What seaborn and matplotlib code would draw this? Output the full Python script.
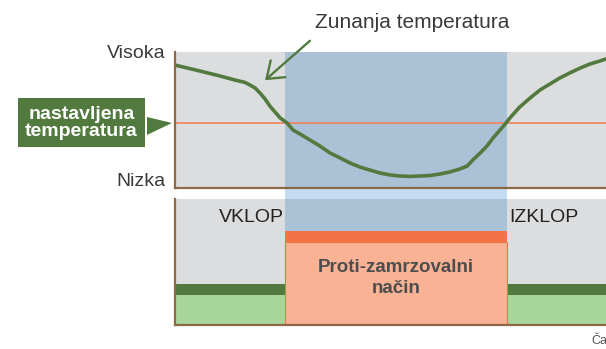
import matplotlib
matplotlib.use("Agg")
import matplotlib.pyplot as plt
import numpy as np
import pandas as pd
import seaborn as sns
from matplotlib.patches import Polygon, Rectangle

# Outside temperature curve (time 0..100, temperature 0 = low .. 10 = high)
time = [0, 5.8, 10.4, 13.9, 16.2, 17.4, 18.6, 19.7, 20.9, 22.0, 23.2, 24.4, 26.0, 27.4,
        29.0, 31.3, 33.6, 36.0, 38.3, 40.6, 42.9, 45.2, 47.6, 49.9, 52.2, 54.5, 56.8,
        59.2, 61.5, 63.8, 66.1, 67.8, 69.1, 70.8, 72.4, 73.8, 75.4, 76.8, 77.7, 80.0,
        82.4, 84.7, 87.0, 89.3, 91.6, 94.0, 96.3, 98.6, 100]
outside_temp = [9.04, 8.60, 8.24, 7.94, 7.77, 7.57, 7.35, 6.99, 6.54, 6.03, 5.59, 5.15, 4.78, 4.26,
                3.97, 3.53, 3.09, 2.57, 2.21, 1.84, 1.54, 1.32, 1.10, 0.96, 0.88, 0.85, 0.88,
                0.92, 1.03, 1.18, 1.40, 1.62, 2.06, 2.57, 3.09, 3.68, 4.26, 4.78, 5.15, 5.96,
                6.62, 7.21, 7.65, 8.09, 8.46, 8.82, 9.12, 9.34, 9.49]
set_temp = 4.78

# Anti-freeze mode switches on / off
t_on = 25.5
t_off = 77.0

# Temperature axis labels
temp_ticks = [10, 0.6]
temp_labels = ["Visoka", "Nizka"]

# Bottom panel levels (0..10)
green_top = 2.38
green_strip_top = 3.25
mode_top = 6.59
mode_strip_top = 7.46

GRAY = "#dcdddf"
BLUE = "#abc1d6"
LIGHT_BLUE = "#c6dcf2"
BROWN = "#8c6a48"
DARK_GREEN = "#527a3e"
LIGHT_GREEN = "#a8d69a"
ORANGE = "#f27346"
SALMON = "#f9b293"
RED_LINE = "#f4805a"

plt.rcParams["font.family"] = ["Liberation Sans", "DejaVu Sans"]

W, H = 606, 349
fig = plt.figure(figsize=(W / 100, H / 100), dpi=100)
ax1 = fig.add_axes([175 / W, 1 - 188 / H, 431 / W, 136 / H])
ax2 = fig.add_axes([175 / W, 1 - 325 / H, 431 / W, 126 / H])

for ax in (ax1, ax2):
    ax.set_facecolor(GRAY)
    ax.set_xlim(0, 100)
    ax.set_ylim(0, 10)
    for s in ("top", "right"):
        ax.spines[s].set_visible(False)
    for s in ("left", "bottom"):
        ax.spines[s].set_color(BROWN)
        ax.spines[s].set_linewidth(1.6)
    ax.set_xticks([])

# ---- top panel: temperatures
ax1.axvspan(t_on, t_off, color=BLUE, lw=0, zorder=0)
ax1.axvspan(t_on, t_off, ymin=-11 / 136, ymax=0, color=LIGHT_BLUE, lw=0, clip_on=False, zorder=0)
ax1.axhline(set_temp, color=RED_LINE, lw=1.2, zorder=1)
df = pd.DataFrame({"time": time, "temp": outside_temp})
sns.lineplot(data=df, x="time", y="temp", ax=ax1, color=DARK_GREEN, lw=2.6, zorder=2,
             solid_joinstyle="round", solid_capstyle="round")
ax1.set_xlabel("")
ax1.set_ylabel("")
ax1.set_xlim(0, 100)
ax1.set_ylim(0, 10)
ax1.set_xticks([])
ax1.set_yticks(temp_ticks)
ax1.set_yticklabels(temp_labels, fontsize=14, color="#3a3a3a")
ax1.tick_params(axis="y", length=0, pad=6.5)

ax1.annotate("", xy=(20.4, 7.79), xytext=(31.8, 10.96), annotation_clip=False,
             arrowprops=dict(arrowstyle="->,head_length=1.1,head_width=0.8", color=DARK_GREEN, lw=1.7))
fig.text(315 / W, 1 - 22 / H, "Zunanja temperatura", fontsize=15, color="#3a3a3a",
         ha="left", va="center")

# set temperature label with pointer
fig.text(81.5 / W, 1 - 122.5 / H, "nastavljena\ntemperatura", fontsize=14, fontweight="bold",
         color="white", ha="center", va="center", linespacing=1.0,
         bbox=dict(boxstyle="square,pad=0.38", fc=DARK_GREEN, ec="none"))
ax1.add_patch(Polygon([(-6.5, 5.22), (-0.7, set_temp), (-6.5, 3.90)], closed=True,
                      fc=DARK_GREEN, ec="none", clip_on=False))

# ---- bottom panel: operating mode
ax2.fill_between([0, t_on], 0, green_top, color=LIGHT_GREEN, lw=0)
ax2.fill_between([t_off, 100], 0, green_top, color=LIGHT_GREEN, lw=0)
ax2.fill_between([0, t_on], green_top, green_strip_top, color=DARK_GREEN, lw=0)
ax2.fill_between([t_off, 100], green_top, green_strip_top, color=DARK_GREEN, lw=0)
ax2.axvspan(t_on, t_off, ymin=mode_strip_top / 10, ymax=1, color=BLUE, lw=0)
ax2.add_patch(Rectangle((t_on, 0), t_off - t_on, mode_top, fc=SALMON, ec=ORANGE, lw=0.8))
ax2.fill_between([t_on, t_off], mode_top, mode_strip_top, color=ORANGE, lw=0)
ax2.set_yticks([])

ax2.text(t_on - 0.3, 8.5, "VKLOP", fontsize=14, color="#222222", ha="right", va="center")
ax2.text(t_off + 0.5, 8.5, "IZKLOP", fontsize=14, color="#222222", ha="left", va="center")
ax2.text((t_on + t_off) / 2, 3.73, "Proti-zamrzovalni\nnačin", fontsize=13.5, fontweight="bold",
         color="#4d4d4d", ha="center", va="center", linespacing=1.3)

fig.text(591 / W, 1 - 341 / H, "Čas", fontsize=9, color="#555555", ha="left", va="center")

fig.savefig("out.png", dpi=100)
